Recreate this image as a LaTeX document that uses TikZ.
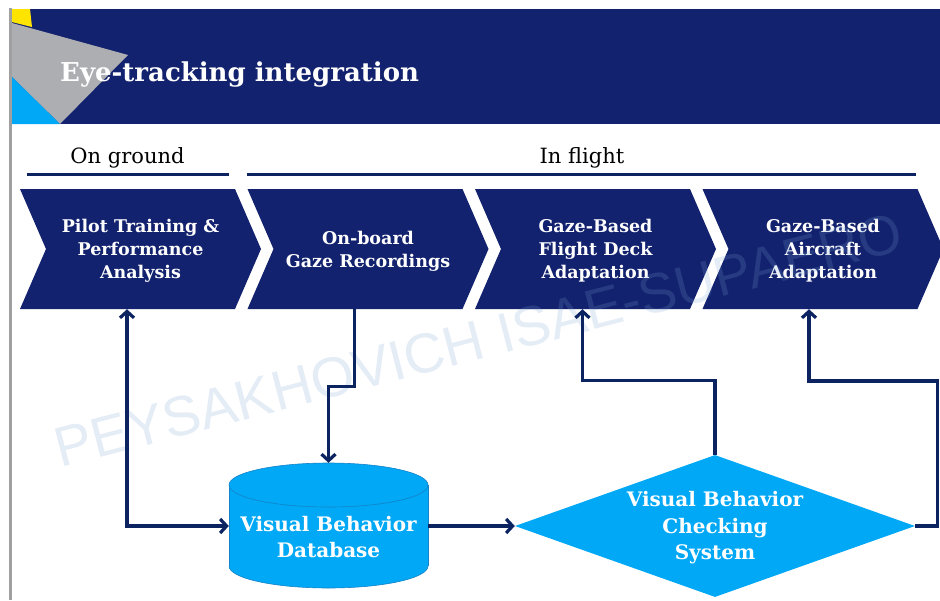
\documentclass[tikz,border=0pt]{standalone}
\usepackage{fontspec}
\setmainfont{DejaVu Serif}
\newfontfamily\wmfont{Liberation Sans}
\usetikzlibrary{shapes.geometric,arrows.meta,calc}

\definecolor{navy}{RGB}{19,34,110}
\definecolor{linknavy}{RGB}{12,35,98}
\definecolor{azure}{RGB}{0,168,245}
\definecolor{azureedge}{RGB}{20,130,200}
\definecolor{cornergray}{RGB}{172,174,178}
\definecolor{corneryellow}{RGB}{255,228,0}
\definecolor{bordergray}{RGB}{160,160,160}
\definecolor{wmblue}{RGB}{120,160,210}

\tikzset{
  stagetext/.style={text=white, font=\fontsize{17.5}{23}\selectfont\bfseries,
    align=center, inner sep=0pt, minimum width=215pt, minimum height=116pt},
  bigtext/.style={text=white, font=\fontsize{20}{26.5}\selectfont\bfseries,
    align=center, inner sep=0pt},
  phasetext/.style={text=black, font=\fontsize{21}{24}\selectfont},
  phaseline/.style={draw=linknavy, line width=3pt},
  barb/.style={Straight Barb[length=6.5pt,width=14pt,line width=3pt]},
  link/.style={draw=linknavy, line width=3.2pt, -{Straight Barb[length=6.5pt,width=14pt]}},
  twolink/.style={draw=linknavy, line width=3.2pt,
    {Straight Barb[length=6.5pt,width=14pt]}-{Straight Barb[length=6.5pt,width=14pt]}},
}

% one chevron stage: name, left x, label
\newcommand\stagechevron[3]{%
  \fill[navy] (#2,189) -- ++(215,0) -- ++(26,60) -- ++(-26,60) -- ++(-215,0) -- ++(26,-60) -- cycle;
  \node[stagetext] (#1) at (#2+120.5,251) {#3};
}

\begin{document}
\begin{tikzpicture}[x=1pt,y=-1pt]
\useasboundingbox (0,0) rectangle (940,600);
\clip (0,0) rectangle (940,600);
\fill[white] (0,0) rectangle (940,600);

% title band
\fill[navy] (12,9) rectangle (940,124);
\draw[bordergray, line width=3pt] (10.5,8) -- (10.5,600);
\fill[corneryellow] (12,9) -- (30,9) -- (32,27) -- (12,22) -- cycle;
\fill[cornergray] (12,23) -- (128,55) -- (60,124) -- (12,77) -- cycle;
\fill[azure] (12,77) -- (60,124) -- (12,124) -- cycle;
\node[anchor=base west, text=white, inner sep=0pt,
      font=\fontsize{26}{28}\selectfont\bfseries] (title) at (60,81) {Eye-tracking integration};

% phases
\node[phasetext, anchor=base] (ground) at (127.5,163) {On ground};
\node[phasetext, anchor=base] (flight) at (582,163) {In flight};
\draw[phaseline] (27,174) -- (229,174);
\draw[phaseline] (247,174) -- (916,174);

% stages
\stagechevron{c1}{20}{Pilot Training \&\\Performance\\Analysis}
\stagechevron{c2}{247.5}{On-board\\Gaze Recordings}
\stagechevron{c3}{475}{Gaze-Based\\Flight Deck\\Adaptation}
\stagechevron{c4}{702.5}{Gaze-Based\\Aircraft\\Adaptation}

% database cylinder
\fill[azure] (229,485) rectangle (428,566);
\fill[azure] (328.5,566) ellipse [x radius=99.5, y radius=22];
\begin{scope}
  \clip (220,566) rectangle (440,600);
  \draw[azureedge, line width=0.6pt] (328.5,566) ellipse [x radius=99.5, y radius=22];
\end{scope}
\draw[azureedge, line width=0.6pt] (229,485) -- (229,566) (428,485) -- (428,566);
\filldraw[fill=azure, draw=azureedge, line width=0.6pt] (328.5,485) ellipse [x radius=99.5, y radius=22];
\node[minimum width=199pt, minimum height=126pt, inner sep=0pt] (db) at (328.5,526) {};
\node[bigtext] (dbtext) at (328.5,537) {Visual Behavior\\Database};

% checking system diamond
\node[diamond, fill=azure, minimum width=400pt, minimum height=142pt, inner sep=0pt] (vb) at (715,526) {};
\node[bigtext] (vbtext) at (715,528) {Visual Behavior\\Checking\\System};

% watermark
\node[text=wmblue, text opacity=0.2, rotate=14.5, anchor=base west, inner sep=0pt,
      font=\wmfont\fontsize{56}{60}\selectfont] (wm) at (60,468) {PEYSAKHOVICH ISAE-SUPAERO};

% connectors
\draw[twolink] ([xshift=-13.5pt]c1.south) |- (db.west);
\draw[link] ([xshift=-13.5pt]c2.south) -- ++(0,77) -| (db.north);
\draw[link] (db.east) -- (vb.west);
\draw[link] (vb.north) -- ++(0,-74) -| ([xshift=-13pt]c3.south);
\draw[link] (vb.east) -- ++(22,0) -- ++(0,-145) -| ([xshift=-14pt]c4.south);
\end{tikzpicture}
\end{document}
